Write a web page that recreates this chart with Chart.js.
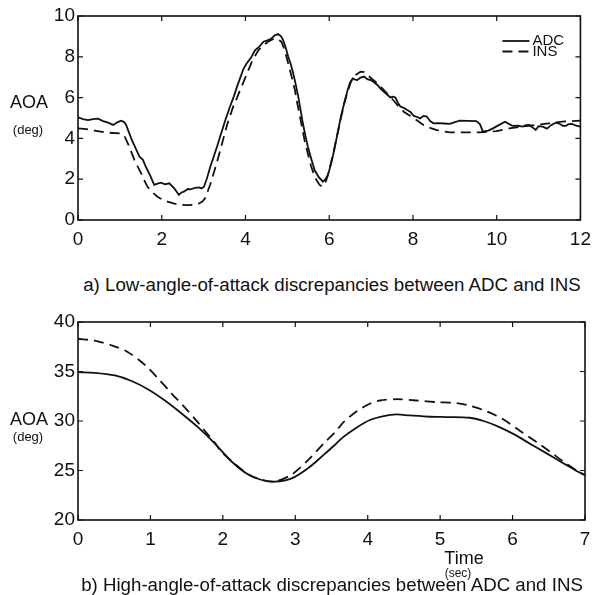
<!DOCTYPE html>
<html>
<head>
<meta charset="utf-8">
<script src="https://cdn.jsdelivr.net/npm/chart.js@4.4.1/dist/chart.umd.min.js"></script>
<style>
  body { margin: 0; background: #fff; }
  #page { position: relative; width: 599px; height: 595px; font-family: "Liberation Sans", Arial, sans-serif; color: #111; }
  canvas { position: absolute; left: 0; }
  .lbl { position: absolute; transform: translate(-50%, -50%); white-space: nowrap; line-height: 1; }
</style>
</head>
<body>
<div id="page">
  <canvas id="chartTop" width="599" height="250" style="top:0"></canvas>
  <canvas id="chartBottom" width="599" height="250" style="top:300px"></canvas>

  <div class="lbl" style="left:29px;top:102px;font-size:18px">AOA</div>
  <div class="lbl" style="left:28px;top:129px;font-size:13px">(deg)</div>
  <div class="lbl" style="left:332px;top:285px;font-size:18.7px">a) Low-angle-of-attack discrepancies between ADC and INS</div>

  <div class="lbl" style="left:29px;top:419px;font-size:18px">AOA</div>
  <div class="lbl" style="left:28px;top:436px;font-size:13px">(deg)</div>
  <div class="lbl" style="left:464px;top:558px;font-size:18px">Time</div>
  <div class="lbl" style="left:458px;top:573px;font-size:12px">(sec)</div>
  <div class="lbl" style="left:332px;top:585px;font-size:18.7px">b) High-angle-of-attack discrepancies between ADC and INS</div>
</div>
<script>
// low angle of attack run (time in sec, AOA in deg)
const lowAdcTime = [0.00,0.12,0.24,0.36,0.48,0.60,0.72,0.84,0.95,1.03,1.10,1.15,1.27,1.37,1.47,1.55,1.62,1.72,1.82,1.90,1.98,2.08,2.18,2.30,2.41,2.47,2.53,2.62,2.69,2.80,2.89,2.95,3.01,3.08,3.16,3.24,3.32,3.42,3.52,3.62,3.72,3.80,3.87,3.95,4.03,4.13,4.23,4.33,4.43,4.52,4.62,4.70,4.78,4.85,4.90,4.96,5.02,5.08,5.14,5.20,5.26,5.32,5.37,5.43,5.49,5.57,5.65,5.75,5.85,5.91,5.97,6.05,6.12,6.20,6.28,6.36,6.44,6.50,6.56,6.62,6.67,6.75,6.83,6.91,6.99,7.07,7.15,7.22,7.30,7.38,7.46,7.52,7.58,7.64,7.70,7.78,7.86,7.94,8.02,8.10,8.17,8.25,8.33,8.41,8.49,8.60,8.75,8.88,9.00,9.12,9.30,9.51,9.60,9.67,9.80,9.91,10.05,10.20,10.30,10.38,10.50,10.62,10.70,10.78,10.85,10.93,11.00,11.10,11.20,11.30,11.41,11.50,11.58,11.65,11.72,11.80,11.90,12.00];
const lowAdcAoa = [5.03,4.95,4.90,4.95,4.97,4.85,4.77,4.66,4.80,4.87,4.80,4.66,4.00,3.55,3.10,2.95,2.61,2.20,1.72,1.78,1.83,1.75,1.80,1.55,1.23,1.35,1.39,1.52,1.50,1.58,1.60,1.55,1.63,2.05,2.61,3.10,3.59,4.25,4.90,5.50,6.05,6.55,6.94,7.40,7.68,7.95,8.33,8.50,8.74,8.80,8.90,9.05,9.12,9.00,8.82,8.45,8.01,7.65,7.19,6.65,6.05,5.35,4.74,4.15,3.59,3.00,2.45,2.10,1.88,2.00,2.21,2.80,3.43,4.25,5.07,5.75,6.37,6.75,6.94,6.88,6.86,6.98,7.03,6.90,6.86,6.75,6.62,6.45,6.29,6.15,6.01,6.05,6.01,5.75,5.56,5.50,5.39,5.30,5.10,5.05,4.98,5.10,5.07,4.85,4.74,4.75,4.73,4.71,4.80,4.87,4.86,4.85,4.70,4.33,4.38,4.49,4.65,4.82,4.70,4.61,4.62,4.58,4.65,4.66,4.55,4.41,4.60,4.58,4.48,4.65,4.77,4.72,4.62,4.61,4.70,4.71,4.62,4.58];
const lowInsTime = [0.00,0.20,0.40,0.72,1.00,1.10,1.19,1.27,1.35,1.43,1.51,1.58,1.66,1.78,1.90,2.02,2.14,2.30,2.45,2.60,2.77,2.88,2.97,3.03,3.08,3.16,3.24,3.32,3.40,3.48,3.56,3.64,3.72,3.80,3.87,3.95,4.03,4.15,4.31,4.42,4.54,4.64,4.74,4.86,4.94,5.02,5.10,5.18,5.24,5.30,5.36,5.41,5.49,5.57,5.67,5.77,5.83,5.89,5.96,6.04,6.12,6.20,6.28,6.36,6.44,6.52,6.62,6.75,6.83,6.91,7.03,7.15,7.30,7.46,7.62,7.78,7.94,8.10,8.25,8.41,8.57,8.72,8.88,9.20,9.59,9.99,10.30,10.62,10.93,11.25,11.57,12.00];
const lowInsAoa = [4.49,4.45,4.38,4.28,4.25,4.15,3.76,3.35,2.94,2.60,2.29,1.95,1.63,1.35,1.14,1.00,0.90,0.80,0.74,0.73,0.74,0.80,0.90,1.05,1.31,1.75,2.29,2.85,3.43,4.05,4.66,5.15,5.64,6.00,6.37,6.75,7.15,7.75,8.33,8.55,8.74,8.85,8.90,8.74,8.30,7.68,7.05,6.37,5.70,5.07,4.45,3.92,3.25,2.61,2.05,1.72,1.65,1.72,2.15,2.78,3.50,4.25,5.00,5.72,6.30,6.78,7.10,7.27,7.25,7.11,6.90,6.70,6.38,6.05,5.65,5.31,5.10,4.88,4.66,4.52,4.41,4.35,4.30,4.30,4.30,4.36,4.49,4.58,4.66,4.74,4.82,4.87];

// high angle of attack run
const highAdcTime = [0.00,0.23,0.51,0.74,0.97,1.20,1.43,1.66,1.89,2.12,2.35,2.54,2.72,2.95,3.18,3.41,3.55,3.66,3.85,4.03,4.22,4.40,4.58,4.86,5.09,5.41,5.60,5.78,6.01,6.24,6.47,6.70,6.89,7.00];
const highAdcAoa = [34.93,34.87,34.60,34.04,33.19,32.07,30.76,29.35,27.71,25.91,24.59,24.04,23.87,24.20,25.25,26.70,27.60,28.37,29.35,30.10,30.50,30.66,30.56,30.43,30.40,30.33,30.00,29.51,28.70,27.71,26.73,25.74,24.92,24.53];
const highInsTime = [0.00,0.23,0.46,0.68,0.92,1.11,1.29,1.48,1.62,1.75,1.89,1.98,2.12,2.35,2.54,2.72,2.95,3.18,3.41,3.55,3.66,3.85,4.03,4.17,4.40,4.67,4.95,5.23,5.41,5.64,5.87,6.10,6.33,6.52,6.70,6.89,7.00];
const highInsAoa = [38.31,38.11,37.65,37.00,35.68,34.27,32.80,31.32,30.17,29.02,27.80,26.89,25.95,24.62,24.06,23.90,24.59,26.07,27.87,28.86,29.84,30.99,31.74,32.07,32.20,32.07,31.91,31.81,31.55,30.99,30.17,29.02,27.87,26.89,25.90,24.98,24.53];

const lowXTicks = [0, 2, 4, 6, 8, 10, 12];
const lowYTicks = [0, 2, 4, 6, 8, 10];
const highXTicks = [0, 1, 2, 3, 4, 5, 6, 7];
const highYTicks = [20, 25, 30, 35, 40];

const seriesNames = ['ADC', 'INS'];

function toPoints(xs, ys) {
  return xs.map((x, i) => ({ x: x, y: ys[i] }));
}

// frame with inward ticks on all four sides + small legend in the corner
const boxTicks = {
  id: 'boxTicks',
  afterDraw(chart, args, opts) {
    const ctx = chart.ctx;
    const a = chart.chartArea;
    const sx = chart.scales.x, sy = chart.scales.y;
    ctx.save();
    ctx.strokeStyle = '#111';
    ctx.lineWidth = 1.6;
    ctx.strokeRect(a.left, a.top, a.right - a.left, a.bottom - a.top);
    ctx.lineWidth = 1.2;
    ctx.beginPath();
    sx.ticks.forEach(t => {
      const px = sx.getPixelForValue(t.value);
      ctx.moveTo(px, a.bottom); ctx.lineTo(px, a.bottom - 5);
      ctx.moveTo(px, a.top); ctx.lineTo(px, a.top + 5);
    });
    sy.ticks.forEach(t => {
      const py = sy.getPixelForValue(t.value);
      ctx.moveTo(a.left, py); ctx.lineTo(a.left + 5, py);
      ctx.moveTo(a.right, py); ctx.lineTo(a.right - 5, py);
    });
    ctx.stroke();

    if (opts.legend) {
      ctx.font = '15px "Liberation Sans", Arial, sans-serif';
      ctx.fillStyle = '#111';
      ctx.textBaseline = 'middle';
      chart.data.datasets.forEach((ds, i) => {
        const y = a.top + 25 + i * 10.5;
        ctx.lineWidth = 1.8;
        ctx.setLineDash(ds.borderDash || []);
        ctx.beginPath();
        ctx.moveTo(a.right - 78, y);
        ctx.lineTo(a.right - 51, y);
        ctx.stroke();
        ctx.setLineDash([]);
        ctx.fillText(ds.label, a.right - 48, y);
      });
    }
    ctx.restore();
  }
};

function makeOptions(adcPts, insPts, xTicks, yTicks, padTop, legend, tension) {
  const tickFont = { family: '"Liberation Sans", Arial, sans-serif', size: 19 };
  return {
    type: 'line',
    data: {
      datasets: [{
          label: seriesNames[0],
          data: adcPts,
          borderColor: '#111',
          borderWidth: 1.8,
          pointRadius: 0,
          tension: tension
        },
        {
          label: seriesNames[1],
          data: insPts,
          borderColor: '#111',
          borderWidth: 1.8,
          borderDash: [10, 6],
          pointRadius: 0,
          tension: tension
        }
      ]
    },
    options: {
      responsive: false,
      animation: false,
      layout: { padding: { top: padTop, right: 14, left: 0, bottom: 0 } },
      plugins: {
        legend: { display: false },
        tooltip: { enabled: false },
        boxTicks: { legend: legend }
      },
      scales: {
        x: {
          type: 'linear',
          min: xTicks[0],
          max: xTicks[xTicks.length - 1],
          afterBuildTicks: s => { s.ticks = xTicks.map(v => ({ value: v })); },
          afterFit: s => { s.height = 30; },
          grid: { display: false, drawTicks: false },
          border: { display: false },
          ticks: { color: '#111', font: tickFont, padding: 8, maxRotation: 0 }
        },
        y: {
          type: 'linear',
          min: yTicks[0],
          max: yTicks[yTicks.length - 1],
          afterBuildTicks: s => { s.ticks = yTicks.map(v => ({ value: v })); },
          afterFit: s => { s.width = 78; },
          grid: { display: false, drawTicks: false },
          border: { display: false },
          ticks: { color: '#111', font: tickFont, padding: 3 }
        }
      }
    },
    plugins: [boxTicks]
  };
}

const ctxTop = document.getElementById('chartTop').getContext('2d');
new Chart(ctxTop, makeOptions(toPoints(lowAdcTime, lowAdcAoa), toPoints(lowInsTime, lowInsAoa), lowXTicks, lowYTicks, 16, true, 0));

const ctxBottom = document.getElementById('chartBottom').getContext('2d');
new Chart(ctxBottom, makeOptions(toPoints(highAdcTime, highAdcAoa), toPoints(highInsTime, highInsAoa), highXTicks, highYTicks, 22, false, 0.3));
</script>
</body>
</html>
